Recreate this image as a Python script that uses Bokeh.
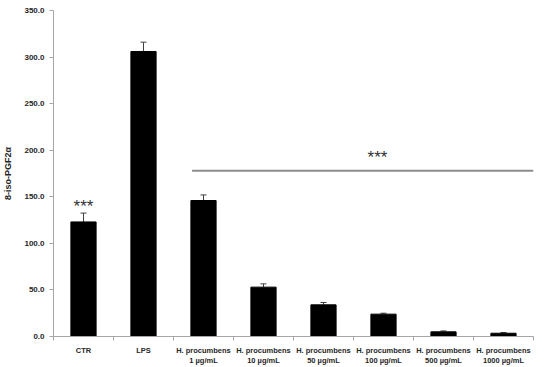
from bokeh.plotting import figure
from bokeh.models import FixedTicker, PrintfTickFormatter, Whisker, ColumnDataSource, LinearAxis, Range1d, TeeHead
from bokeh.core.properties import value
from bokeh.embed import file_html
from bokeh.resources import INLINE

categories = ["CTR", "LPS",
              "H. procumbens\n1 µg/mL", "H. procumbens\n10 µg/mL",
              "H. procumbens\n50 µg/mL", "H. procumbens\n100 µg/mL",
              "H. procumbens\n500 µg/mL", "H. procumbens\n1000 µg/mL"]
values = [123.0, 306.0, 146.0, 53.0, 34.0, 24.0, 5.0, 3.5]
errors = [9.5, 10.0, 6.0, 3.5, 2.5, 1.0, 1.0, 0.8]
y_ticks = [0, 50, 100, 150, 200, 250, 300, 350]
sig_line_value = 178.0
sig_line_from = 2.31   # category-position where the significance line starts
sig_text = "***"

FONT = "Liberation Sans"
GRAY = "#a6a6a6"
TXT = "#262626"

xs = [i + 0.5 for i in range(len(categories))]
src = ColumnDataSource(dict(x=xs, top=values, up=[v + e for v, e in zip(values, errors)],
                            base=values))

p = figure(frame_width=480, frame_height=326, output_backend="svg", toolbar_location=None,
           x_range=Range1d(0, len(categories)), y_range=Range1d(0, 350),
           min_border_left=49, min_border_right=5, min_border_top=10, min_border_bottom=26,
           x_axis_location=None, y_axis_location=None)
p.outline_line_color = None
p.xgrid.visible = False
p.ygrid.visible = False
p.background_fill_color = "white"

p.vbar(x="x", top="top", width=0.42, source=src, fill_color="black", line_color="black")
p.add_layout(Whisker(source=src, base="x", upper="up", lower="base", dimension="height",
                     line_color="#404040", line_width=1,
                     upper_head=None, lower_head=None))
p.add_layout(Whisker(source=src, base="x", upper="up", lower="up", dimension="height",
                     line_color="#404040", line_width=1,
                     upper_head=TeeHead(size=6, line_color="#404040", line_width=1),
                     lower_head=None))

# significance line and stars
p.segment(x0=[sig_line_from], y0=[sig_line_value], x1=[len(categories)], y1=[sig_line_value],
          line_color="#8c8c8c", line_width=2)
p.text(x=[xs[5] - 0.1], y=[sig_line_value], text=[sig_text], text_align="center",
       text_baseline="alphabetic", y_offset=-13, text_font=value(FONT), text_font_size="17px",
       text_color="#333333")
p.text(x=[xs[0]], y=[values[0] + errors[0]], text=[sig_text], text_align="center",
       text_baseline="alphabetic", y_offset=-7, text_font=value(FONT), text_font_size="17px",
       text_color="#333333")

# y axis
ya = LinearAxis(ticker=FixedTicker(ticks=y_ticks), formatter=PrintfTickFormatter(format="%.1f"))
ya.axis_label = "8-iso-PGF2α"
ya.axis_label_text_font = FONT
ya.axis_label_text_font_style = "bold"
ya.axis_label_text_font_size = "9px"
ya.axis_label_text_color = TXT
ya.axis_label_standoff = 8
ya.major_label_text_font = FONT
ya.major_label_text_font_style = "bold"
ya.major_label_text_font_size = "8px"
ya.major_label_text_color = TXT
ya.major_label_standoff = 5
ya.axis_line_color = GRAY
ya.major_tick_line_color = GRAY
ya.major_tick_out = 4
ya.major_tick_in = 0
ya.minor_tick_line_color = None
p.add_layout(ya, "left")

# x axis: labels at centers, ticks at boundaries (minor ticks)
xa = LinearAxis(ticker=FixedTicker(ticks=xs, minor_ticks=list(range(len(categories) + 1))))
xa.major_label_overrides = {x: c for x, c in zip(xs, categories)}
xa.major_label_text_font = FONT
xa.major_label_text_font_style = "bold"
xa.major_label_text_font_size = "7.5px"
xa.major_label_text_color = TXT
xa.major_label_text_line_height = 1.2
xa.major_label_standoff = 5
xa.axis_line_color = GRAY
xa.major_tick_line_color = None
xa.major_tick_out = 0
xa.major_tick_in = 0
xa.minor_tick_line_color = GRAY
xa.minor_tick_out = 4
xa.minor_tick_in = 0
p.add_layout(xa, "below")

open("out.html", "w").write(file_html(p, INLINE))
